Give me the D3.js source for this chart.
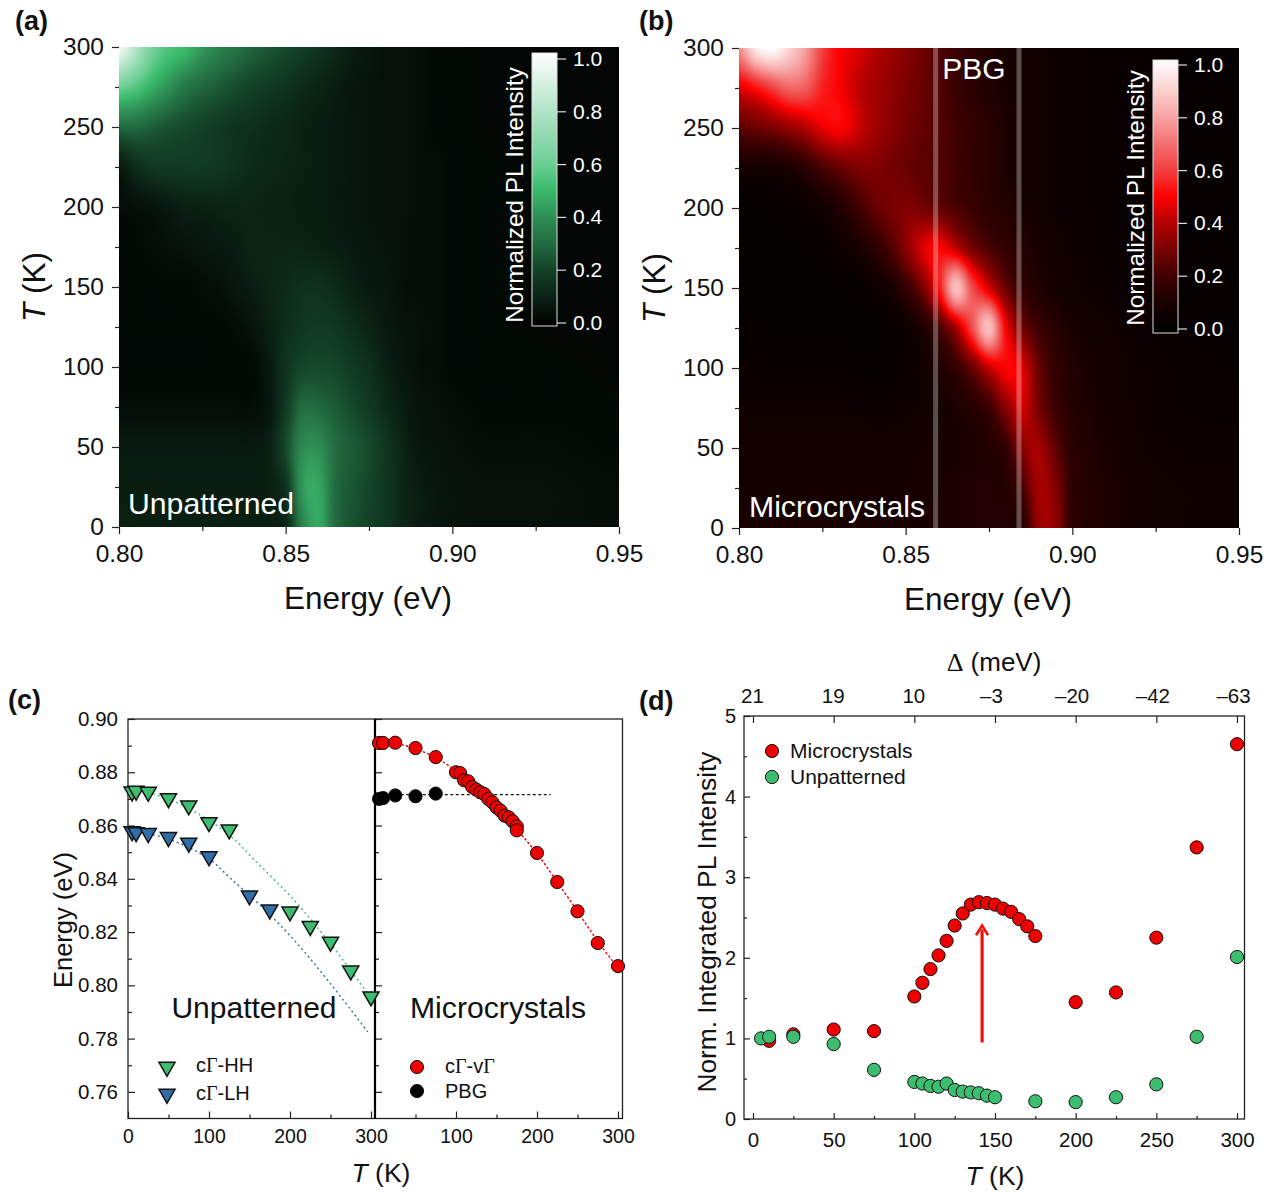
<!DOCTYPE html>
<html><head><meta charset="utf-8">
<script src="https://cdn.jsdelivr.net/npm/d3@7"></script>
<style>
html,body{margin:0;padding:0;background:#fff}
svg{display:block}
text{font-family:"Liberation Sans",Arial,sans-serif;fill:#111}
.dom{fill:none}
</style></head><body>
<svg id="fig" width="1274" height="1192"></svg>
<script>
// ---------- heat-map grid ----------
const heatEnergies=[.80,.805,.81,.815,.82,.825,.83,.835,.84,.845,.85,.855,.86,.865,.87,.875,.88,.885,.89,.895,.90,.91,.925,.95];
const heatTemps=[0,25,50,75,100,125,150,175,200,225,250,275,300];
const unpatternedMap=[
[.10,.10,.10,.10,.10,.10,.10,.10,.10,.10,.12,.36,.46,.30,.24,.20,.17,.12,.09,.07,.06,.05,.05,.04],
[.09,.09,.09,.09,.09,.09,.09,.09,.09,.10,.16,.42,.45,.30,.25,.21,.17,.12,.09,.07,.06,.05,.05,.04],
[.08,.08,.08,.08,.08,.08,.08,.08,.08,.10,.22,.38,.39,.30,.26,.22,.17,.11,.07,.06,.05,.04,.04,.03],
[.04,.04,.04,.04,.04,.04,.04,.04,.04,.07,.18,.30,.29,.26,.22,.18,.13,.09,.06,.05,.04,.03,.03,.03],
[.03,.03,.03,.03,.03,.03,.03,.03,.03,.08,.16,.21,.22,.21,.18,.15,.10,.07,.05,.04,.03,.03,.03,.02],
[.03,.03,.03,.03,.03,.03,.03,.04,.06,.10,.14,.17,.18,.17,.14,.11,.08,.06,.05,.04,.03,.03,.02,.02],
[.03,.03,.03,.03,.03,.04,.05,.07,.09,.11,.13,.15,.15,.13,.10,.08,.07,.05,.04,.04,.03,.03,.02,.02],
[.02,.03,.04,.05,.06,.07,.08,.09,.11,.11,.11,.11,.10,.09,.08,.07,.06,.05,.04,.04,.03,.03,.02,.02],
[.04,.05,.06,.08,.10,.10,.11,.11,.11,.10,.10,.09,.09,.08,.07,.06,.05,.05,.04,.04,.03,.03,.02,.02],
[.08,.14,.17,.18,.18,.18,.17,.15,.13,.12,.11,.10,.09,.08,.07,.06,.05,.05,.04,.04,.03,.03,.02,.02],
[.30,.30,.27,.24,.22,.20,.18,.16,.15,.13,.12,.10,.09,.08,.07,.06,.05,.05,.04,.03,.03,.02,.02,.02],
[.60,.55,.47,.40,.33,.29,.26,.23,.20,.18,.16,.13,.11,.09,.07,.06,.05,.05,.04,.03,.03,.02,.02,.02],
[.97,.80,.62,.54,.50,.42,.36,.32,.28,.25,.22,.19,.16,.12,.09,.07,.05,.05,.04,.03,.03,.02,.02,.02]];
const microcrystalMap=[
[.11,.11,.11,.11,.11,.11,.11,.11,.11,.11,.11,.11,.12,.12,.13,.13,.13,.14,.36,.34,.17,.12,.08,.07],
[.10,.10,.10,.10,.10,.10,.10,.10,.10,.10,.10,.11,.11,.12,.13,.13,.14,.22,.38,.32,.17,.12,.08,.07],
[.09,.09,.09,.09,.09,.09,.09,.09,.09,.09,.09,.10,.11,.11,.12,.14,.18,.33,.38,.26,.16,.11,.07,.06],
[.07,.07,.07,.07,.07,.07,.07,.07,.06,.06,.07,.08,.10,.12,.15,.20,.33,.44,.30,.20,.14,.10,.06,.05],
[.05,.05,.04,.04,.04,.04,.04,.03,.03,.04,.06,.09,.13,.18,.28,.42,.50,.46,.28,.18,.13,.09,.06,.04],
[.03,.03,.02,.02,.02,.02,.02,.02,.02,.04,.07,.12,.22,.38,.62,.85,.50,.30,.20,.15,.11,.08,.05,.03],
[.02,.02,.02,.02,.02,.02,.02,.03,.07,.10,.18,.30,.52,.85,.62,.45,.28,.18,.13,.10,.08,.06,.04,.03],
[.02,.02,.02,.02,.02,.04,.07,.10,.15,.22,.33,.45,.50,.42,.30,.23,.18,.14,.11,.09,.07,.05,.03,.03],
[.02,.02,.03,.04,.06,.09,.13,.19,.26,.30,.32,.30,.27,.23,.20,.16,.14,.11,.09,.07,.06,.05,.03,.03],
[.10,.10,.10,.12,.16,.22,.27,.31,.32,.30,.28,.26,.24,.21,.18,.15,.12,.10,.08,.07,.06,.05,.04,.03],
[.26,.28,.31,.35,.40,.47,.50,.45,.38,.34,.30,.27,.24,.21,.18,.15,.12,.10,.08,.07,.06,.05,.04,.03],
[.46,.52,.60,.67,.65,.55,.50,.43,.38,.35,.31,.28,.24,.20,.16,.13,.11,.09,.08,.07,.06,.05,.04,.03],
[.75,.95,1.0,.90,.78,.60,.50,.46,.41,.37,.33,.29,.24,.20,.16,.13,.10,.09,.08,.07,.06,.05,.04,.03]];
const colorLevels=[0,.1,.2,.3,.4,.5,.6,.8,1];
const greenStops=["#000000","#0a2013","#124026","#226b40","#2e8f55","#3abb6b","#6fcf97","#b5e5ca","#ffffff"];
const redStops=["#000000","#150000","#3a0000","#750000","#b00000","#ff0000","#f04040","#f8a8a8","#ffffff"];
const pbgEnergies=[.859,.884];
// ---------- axis ticks ----------
const energyMajor=[.80,.85,.90,.95], energyMinor=[.825,.875,.925];
const tempMajor=[0,50,100,150,200,250,300], tempMinor=[25,75,125,175,225,275];
const barTicks=[0,.2,.4,.6,.8,1];
// ---------- panel c ----------
const hhT=[5,10,25,50,75,100,125,200,225,250,275,300];
const hhE=[.8727,.8730,.8726,.8702,.8675,.8612,.8585,.8277,.8222,.8163,.8055,.7958];
const lhT=[5,10,25,50,75,100,150,175];
const lhE=[.8578,.8574,.8571,.8556,.8535,.8484,.8337,.8284];
const hhFitT=[25,50,89,125,156,208,249,290,300];
const hhFitE=[.8725,.8700,.8640,.8565,.8471,.8310,.8160,.7994,.7950];
const lhFitT=[25,54,100,126,167,208,249,296];
const lhFitE=[.8570,.8545,.8475,.8403,.8290,.8160,.8010,.7825];
const mcT=[5,10,25,50,75,100,105,110,115,120,125,130,135,140,145,150,155,160,165,170,175,175,200,225,250,275,300];
const mcE=[.8910,.8910,.8911,.8891,.8857,.8800,.8797,.8770,.8766,.8745,.8735,.8725,.8718,.8700,.8687,.8668,.8656,.8637,.8631,.8616,.8597,.8582,.8497,.8388,.8278,.8159,.8072];
const mcFitT=[5,25,50,75,100,125,150,175,200,225,250,275,300];
const mcFitE=[.8910,.8908,.8888,.8855,.8805,.8740,.8668,.8585,.8495,.8388,.8278,.8165,.8065];
const pbgT=[5,10,25,50,75];
const pbgE=[.8700,.8703,.8713,.8710,.8720];
const pbgLineT=[25,217], pbgLineE=[.8716,.8716];
// ---------- panel d ----------
const dMicroT=[10,25,50,75,100,105,110,115,120,125,130,135,140,145,150,155,160,165,170,175,200,225,250,275,300];
const dMicroI=[.97,1.05,1.11,1.09,1.52,1.69,1.86,2.03,2.21,2.40,2.55,2.66,2.69,2.68,2.66,2.61,2.57,2.48,2.39,2.27,1.45,1.57,2.25,3.37,4.65];
const dUnT=[5,10,25,50,75,100,105,110,115,120,125,130,135,140,145,150,175,200,225,250,275,300];
const dUnI=[1.0,1.02,1.02,.93,.61,.46,.44,.41,.40,.44,.36,.34,.33,.32,.29,.27,.22,.21,.27,.43,1.02,2.01];
const deltaLabels=["21","19","10","\u20133","\u201320","\u201342","\u201363"];
const deltaTicks=[0,50,100,150,200,250,300];

const C_GREEN="#3dbd70",C_BLUE="#2f6ea8",C_RED="#ee0000",C_BLACK="#000";
const svg=d3.select("#fig");

function label(g,x,y,txt,size,opt={}){
  const t=g.append("text").attr("font-size",size).attr("text-anchor",opt.anchor||"start")
    .attr("transform",`translate(${x},${y})`+(opt.rot?` rotate(${opt.rot})`:""));
  if(opt.fill)t.style("fill",opt.fill);
  if(opt.weight)t.attr("font-weight",opt.weight);
  return t.text(txt);
}
function tLabel(g,x,y,size,rot){
  const t=g.append("text").attr("font-size",size).attr("text-anchor","middle")
    .attr("transform",`translate(${x},${y})`+(rot?` rotate(${rot})`:""));
  t.append("tspan").attr("font-style","italic").text("T");
  t.append("tspan").text(" (K)");
}
function axis(g,gen,scale,major,minor,fmt,fs,pad,lenMaj,lenMin,dir){
  const ax=gen(scale).tickValues(major.concat(minor)).tickSize(0).tickPadding(pad)
    .tickFormat(d=>major.includes(d)?fmt(d):"");
  const sel=g.call(ax);
  sel.select(".domain").remove();
  sel.selectAll(".tick text").attr("font-size",fs).style("font-family",'"Liberation Sans",Arial,sans-serif').style("fill","#111");
  sel.selectAll(".tick line").attr("stroke","#222").attr("stroke-width",1.2).each(function(d){
    const L=(major.includes(d)?lenMaj:lenMin)*dir.s;
    d3.select(this).attr(dir.a,L);
  });
  return sel;
}
function catmull(p0,p1,p2,p3,t){
  return .5*(2*p1+(p2-p0)*t+(2*p0-5*p1+4*p2-p3)*t*t+(3*p1-p0-3*p2+p3)*t*t*t);
}
function heatImage(matrix,stops,w,h,xs,ys){
  const cv=document.createElement("canvas");cv.width=w;cv.height=h;
  const ctx=cv.getContext("2d"),im=ctx.createImageData(w,h);
  const color=d3.scaleLinear().domain(colorLevels).range(stops).clamp(true);
  const ex=d3.scaleLinear().domain(heatEnergies).range(d3.range(heatEnergies.length));
  const ty=d3.scaleLinear().domain(heatTemps).range(d3.range(heatTemps.length));
  const nx=heatEnergies.length,ny=heatTemps.length;
  const M=(r,c)=>matrix[Math.max(0,Math.min(ny-1,r))][Math.max(0,Math.min(nx-1,c))];
  for(let py=0;py<h;py++){
    const fy=ty(ys.invert(ys.range()[1]+py+.5)),r=Math.min(ny-2,Math.floor(fy)),tr=fy-r;
    for(let px=0;px<w;px++){
      const fx=ex(xs.invert(xs.range()[0]+px+.5)),c=Math.min(nx-2,Math.floor(fx)),tc=fx-c;
      const row=[-1,0,1,2].map(d=>catmull(M(r+d,c-1),M(r+d,c),M(r+d,c+1),M(r+d,c+2),tc));
      const v=catmull(row[0],row[1],row[2],row[3],tr);
      const col=d3.rgb(color(v));const i=(py*w+px)*4;
      im.data[i]=col.r;im.data[i+1]=col.g;im.data[i+2]=col.b;im.data[i+3]=255;
    }
  }
  ctx.putImageData(im,0,0);
  return cv.toDataURL();
}
function heatPanel(cfg){
  const g=svg.append("g");
  const xs=d3.scaleLinear().domain([.80,.95]).range([cfg.x0,cfg.x0+500]);
  const ys=d3.scaleLinear().domain([0,300]).range([cfg.y0+480,cfg.y0]);
  g.append("image").attr("x",cfg.x0).attr("y",cfg.y0).attr("width",500).attr("height",480)
    .attr("href",heatImage(cfg.map,cfg.stops,500,480,xs,ys));
  axis(g.append("g").attr("transform",`translate(0,${cfg.y0+480})`),d3.axisBottom,xs,energyMajor,energyMinor,d3.format(".2f"),24.5,18,7,4,{a:"y2",s:1});
  axis(g.append("g").attr("transform",`translate(${cfg.x0},0)`),d3.axisLeft,ys,tempMajor,tempMinor,d3.format("d"),24.5,15,7,4,{a:"x2",s:-1});
  label(g,cfg.x0+249,cfg.y0+562,"Energy (eV)",31.5,{anchor:"middle"});
  tLabel(g,cfg.x0-74,cfg.y0+240,31.5,-90);
  const id="grad"+cfg.id;
  const lg=svg.append("defs").append("linearGradient").attr("id",id).attr("x1",0).attr("x2",0).attr("y1",1).attr("y2",0);
  cfg.stops.forEach((s,i)=>lg.append("stop").attr("offset",colorLevels[i]).attr("stop-color",s));
  const by=d3.scaleLinear().domain([0,1]).range([cfg.barB,cfg.barT]);
  g.append("rect").attr("x",cfg.barX).attr("y",cfg.barTop).attr("width",25).attr("height",cfg.barBot-cfg.barTop)
    .attr("fill",`url(#${id})`).attr("stroke","#ddd").attr("stroke-width",1);
  g.selectAll(".bt").data(barTicks).join("line").attr("x1",cfg.barX+25).attr("x2",cfg.barX+34)
    .attr("y1",d=>by(d)).attr("y2",d=>by(d)).attr("stroke","#ddd").attr("stroke-width",1.2);
  g.selectAll(".bl").data(barTicks).join("text").attr("x",cfg.barX+41).attr("y",d=>by(d)+7)
    .attr("font-size",21).style("fill","#fff").text(d=>d.toFixed(1));
  label(g,cfg.barX-9,cfg.barTitleY,"Normalized PL Intensity",24.3,{anchor:"middle",rot:-90,fill:"#fff"});
  label(g,cfg.textX,cfg.textY,cfg.text,30.2,{fill:"#fff"});
  label(g,cfg.tagX,30,cfg.tag,27,{weight:"bold"});
  return {g,xs,ys};
}
heatPanel({id:"a",x0:119,y0:47,map:unpatternedMap,stops:greenStops,barX:532,barTop:53,barBot:326,barB:323,barT:59,barTitleY:195,
  text:"Unpatterned",textX:128,textY:514,tag:"(a)",tagX:15});
const pb=heatPanel({id:"b",x0:739,y0:48,map:microcrystalMap,stops:redStops,barX:1153,barTop:60,barBot:333,barB:329,barT:65,barTitleY:198,
  text:"Microcrystals",textX:749,textY:517,tag:"(b)",tagX:639});
pb.g.selectAll(".pbg").data(pbgEnergies).join("line")
  .attr("x1",d=>pb.xs(d)).attr("x2",d=>pb.xs(d)).attr("y1",48).attr("y2",528)
  .attr("stroke","#fff").attr("stroke-opacity",.3).attr("stroke-width",5);
label(pb.g,974,79,"PBG",30,{anchor:"middle",fill:"#fff"});

// ---------- panel (c) ----------
(function(){
  const g=svg.append("g");
  const y=d3.scaleLinear().domain([.75,.90]).range([1118.5,719]);
  const xL=d3.scaleLinear().domain([0,300]).range([128,371]);
  const xR=d3.scaleLinear().domain([0,300]).range([375,618]);
  const dir={a:"x2",s:1};
  const eMaj=[.76,.78,.80,.82,.84,.86,.88,.90],eMin=[.77,.79,.81,.83,.85,.87,.89];
  axis(g.append("g").attr("transform","translate(128,0)"),d3.axisLeft,y,eMaj,eMin,d3.format(".2f"),20.5,10,7,4,dir);
  axis(g.append("g").attr("transform","translate(375,0)"),d3.axisLeft,y,eMaj,eMin,()=>"",20,10,7,4,dir);
  const up={a:"y2",s:-1};
  axis(g.append("g").attr("transform","translate(0,1118.5)"),d3.axisBottom,xL,[0,100,200,300],[50,150,250],d3.format("d"),19.5,11,7,4,up);
  axis(g.append("g").attr("transform","translate(0,1118.5)"),d3.axisBottom,xR,[100,200,300],[50,150,250],d3.format("d"),19.5,11,7,4,up);
  g.append("rect").attr("class","dom").attr("x",128).attr("y",719).attr("width",494.5).attr("height",399.5).attr("stroke","#222").attr("stroke-width",1.3);
  g.append("line").attr("x1",375).attr("x2",375).attr("y1",719).attr("y2",1118.5).attr("stroke","#000").attr("stroke-width",2.2);
  const fit=(X,xs,ys,col,dash)=>g.append("path").attr("class","dom").attr("stroke",col).attr("stroke-width",1.4).attr("stroke-dasharray",dash)
    .attr("d",d3.line().x((d,i)=>X(xs[i])).y((d,i)=>y(ys[i])).curve(d3.curveCatmullRom)(xs));
  fit(xL,hhFitT,hhFitE,C_GREEN,"2 3");
  fit(xL,lhFitT,lhFitE,C_BLUE,"2 3");
  fit(xR,mcFitT,mcFitE,C_RED,"2.5 2");
  fit(xR,pbgLineT,pbgLineE,"#111","3 2.5");
  const tri=d3.symbol().type(d3.symbolTriangle).size(112)();
  const tris=(T,E,col)=>g.selectAll(null).data(T).join("path").attr("d",tri).attr("fill",col).attr("stroke","#111").attr("stroke-width",1.5)
    .attr("transform",(d,i)=>`translate(${xL(d)},${y(E[i])}) rotate(180)`);
  tris(hhT,hhE,C_GREEN);
  tris(lhT,lhE,C_BLUE);
  const dots=(T,E,col)=>g.selectAll(null).data(T).join("circle").attr("r",6.6).attr("fill",col).attr("stroke","#111").attr("stroke-width",1)
    .attr("cx",d=>xR(d)).attr("cy",(d,i)=>y(E[i]));
  dots(mcT,mcE,C_RED);
  dots(pbgT,pbgE,C_BLACK);
  label(g,254,1018,"Unpatterned",30,{anchor:"middle"});
  label(g,498,1018,"Microcrystals",30.2,{anchor:"middle"});
  g.append("path").attr("d",tri).attr("fill",C_GREEN).attr("stroke","#111").attr("stroke-width",1.5).attr("transform","translate(167,1067) rotate(180)");
  g.append("path").attr("d",tri).attr("fill",C_BLUE).attr("stroke","#111").attr("stroke-width",1.5).attr("transform","translate(167,1094) rotate(180)");
  g.append("circle").attr("cx",417).attr("cy",1067).attr("r",6.6).attr("fill",C_RED).attr("stroke","#111");
  g.append("circle").attr("cx",417).attr("cy",1091).attr("r",6.6).attr("fill",C_BLACK).attr("stroke","#111");
  const gam=(x,yy,a,b)=>{const t=g.append("text").attr("x",x).attr("y",yy).attr("font-size",20);
    t.append("tspan").text("c");t.append("tspan").style("font-family",'"Liberation Serif",serif').text("\u0393");t.append("tspan").text(a);
    if(b)t.append("tspan").style("font-family",'"Liberation Serif",serif').text(b);};
  gam(196,1072,"-HH");gam(196,1100,"-LH");gam(445,1073,"-v","\u0393");
  label(g,445,1098,"PBG",20);
  label(g,72,920,"Energy (eV)",25.5,{anchor:"middle",rot:-90});
  tLabel(g,381,1182,26.5);
  label(g,8,709,"(c)",27,{weight:"bold"});
})();

// ---------- panel (d) ----------
(function(){
  const g=svg.append("g");
  const x=d3.scaleLinear().domain([0,300]).range([753,1237]);
  const y=d3.scaleLinear().domain([0,5]).range([1119,716]);
  axis(g.append("g").attr("transform","translate(744,0)"),d3.axisLeft,y,[0,1,2,3,4,5],[.5,1.5,2.5,3.5,4.5],d3.format("d"),20,8,6,3,{a:"x2",s:1});
  axis(g.append("g").attr("transform","translate(0,1119)"),d3.axisBottom,x,deltaTicks,[25,75,125,175,225,275],d3.format("d"),20.5,13,6,3,{a:"y2",s:-1});
  const topAx=axis(g.append("g").attr("transform","translate(0,716)"),d3.axisTop,x,deltaTicks,[],d=>deltaLabels[deltaTicks.indexOf(d)],20.5,13,7,0,{a:"y2",s:1});
  topAx.selectAll(".tick text").attr("dx",d=>d>=150?-4:-1);
  g.append("rect").attr("class","dom").attr("x",744).attr("y",716).attr("width",500.5).attr("height",403).attr("stroke","#222").attr("stroke-width",1.3);
  const dots=(T,V,col)=>g.selectAll(null).data(T).join("circle").attr("r",6.6).attr("fill",col).attr("stroke","#111").attr("stroke-width",1)
    .attr("cx",d=>x(d)).attr("cy",(d,i)=>y(V[i]));
  dots(dMicroT,dMicroI,C_RED);
  dots(dUnT,dUnI,C_GREEN);
  g.append("line").attr("x1",x(142)).attr("x2",x(142)).attr("y1",y(.95)).attr("y2",y(2.35)).attr("stroke","#f01010").attr("stroke-width",3.2);
  g.append("path").attr("class","dom").attr("stroke","#f01010").attr("stroke-width",2.6)
    .attr("d",`M${x(142)-6},${y(2.28)}L${x(142)},${y(2.4)}L${x(142)+6},${y(2.28)}`);
  g.append("circle").attr("cx",772).attr("cy",751).attr("r",6.6).attr("fill",C_RED).attr("stroke","#111");
  g.append("circle").attr("cx",772).attr("cy",777).attr("r",6.6).attr("fill",C_GREEN).attr("stroke","#111");
  label(g,790,758,"Microcrystals",21);
  label(g,790,784,"Unpatterned",21);
  label(g,716,922,"Norm. Integrated PL Intensity",26.3,{anchor:"middle",rot:-90});
  tLabel(g,995,1185,26.5);
  const t=g.append("text").attr("x",994).attr("y",671).attr("font-size",26).attr("text-anchor","middle");
  t.append("tspan").style("font-family",'"Liberation Serif",serif').text("\u0394");
  t.append("tspan").text(" (meV)");
  label(g,639,710,"(d)",27,{weight:"bold"});
})();
</script>
</body></html>
